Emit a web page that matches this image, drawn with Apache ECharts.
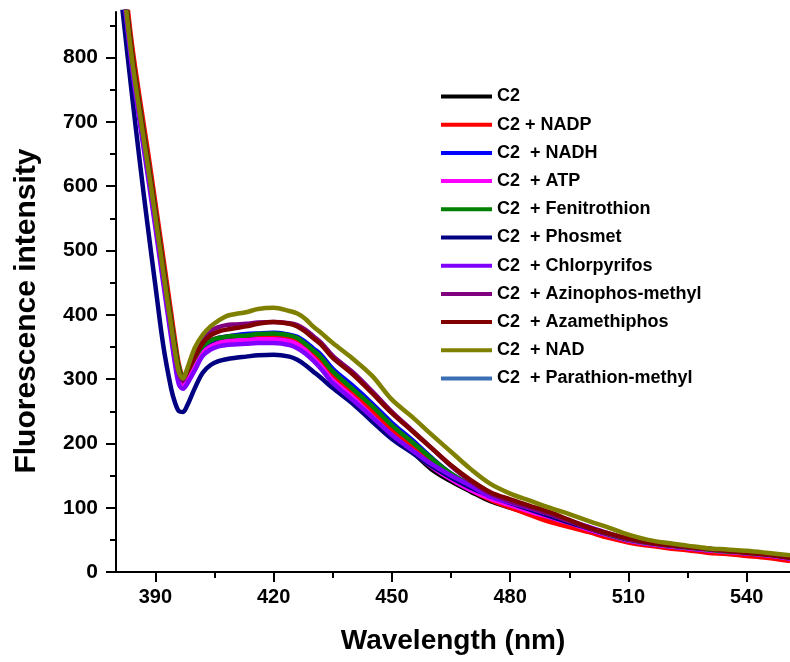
<!DOCTYPE html>
<html>
<head>
<meta charset="utf-8">
<script src="https://cdn.jsdelivr.net/npm/echarts@6/dist/echarts.min.js"></script>
<style>
html,body{margin:0;padding:0;background:#fff;}
#chart{width:790px;height:662px;}
</style>
</head>
<body>
<div id="chart"></div>
<script>
const wavelengths = [380,382,384,386,388,390,392,394,395,396,397,398,400,402,404,406,408,410,413,416,420,424,426,428,430,432,435,440,445,450,455,460,465,470,475,480,485,490,495,500,505,510,515,520,525,530,535,540,545,551];

const c2 =            [995,898,793,708,627,544,458,374,334,303,295,302,324,344,354,358,360,361,362,363,363,360,355,346,334,322,300,273,244,215,188,160,141,125,110,100,91,82,74,65,57,49,44,40,37,34,31,28,25,20];
const c2Nadp =        [1025,930,823,738,658,574,489,403,360,322,306,309,330,350,360,364,366,367,368,369,369,366,361,352,340,328,306,279,250,221,195,170,148,128,112,100,89,78,70,62,53,46,41,37,34,30,28,25,22,17];
const c2Nadh =        [1000,902,797,712,632,549,463,379,340,308,300,307,330,349,359,364,366,368,370,371,372,369,366,358,348,338,316,290,262,232,206,178,153,134,120,109,99,88,77,66,57,49,44,40,37,34,32,29,26,21];
const c2Atp =         [995,898,792,706,625,541,455,370,328,296,289,297,320,341,351,356,359,360,361,362,362,359,354,345,333,320,298,272,242,213,188,164,144,127,114,104,94,85,76,66,57,49,44,40,37,34,31,29,26,21];
const c2Fenitrothion =[1015,918,812,727,647,563,478,393,352,318,305,311,333,351,360,364,366,367,368,370,371,368,364,355,345,334,312,285,258,228,203,177,153,135,121,110,100,90,79,68,58,50,45,41,38,35,32,30,27,22];
const c2Phosmet =     [965,855,745,640,540,445,352,285,263,250,249,258,286,310,322,328,331,333,335,337,338,335,330,322,312,302,286,262,234,207,186,165,147,131,118,107,97,87,77,68,59,51,46,42,39,36,34,31,28,23];
const c2Chlorpyrifos =[990,893,787,700,619,535,449,364,322,291,285,292,314,336,346,351,353,354,355,356,356,353,348,340,329,316,294,268,241,213,190,168,150,134,117,108,99,90,80,70,60,51,46,42,39,36,33,31,28,23];
const c2Azinophos =   [1005,908,804,718,638,554,468,383,342,309,298,312,338,362,375,381,384,385,386,388,389,387,384,377,367,357,336,311,281,249,221,193,165,141,122,110,100,90,79,68,59,51,46,42,39,36,33,31,28,23];
const c2Azamethiphos =[1010,912,808,722,642,558,472,386,345,312,302,310,334,356,368,374,377,379,382,386,389,386,382,374,364,354,333,308,278,247,220,193,166,143,124,113,103,93,81,69,60,52,46,42,39,36,33,30,27,22];
const c2Nad =         [1000,905,800,715,635,552,466,382,342,310,301,315,349,369,382,391,398,401,404,409,411,406,402,394,382,372,356,332,305,268,242,214,187,160,137,122,111,100,90,79,69,58,50,45,41,37,35,33,30,26];
const c2Parathion =   [998,900,795,710,630,547,461,377,338,306,298,305,328,347,357,362,364,366,368,369,370,367,364,356,346,336,314,288,260,230,204,176,151,132,118,107,97,86,76,65,56,48,43,39,36,33,31,28,25,20];

const seriesNames = ['C2','C2 + NADP','C2  + NADH','C2  + ATP','C2  + Fenitrothion','C2  + Phosmet','C2  + Chlorpyrifos','C2  + Azinophos-methyl','C2  + Azamethiphos','C2  + NAD','C2  + Parathion-methyl'];
const seriesValues = [c2,c2Nadp,c2Nadh,c2Atp,c2Fenitrothion,c2Phosmet,c2Chlorpyrifos,c2Azinophos,c2Azamethiphos,c2Nad,c2Parathion];
const seriesColors = ['#000000','#ff0000','#0000ff','#ff00ff','#008000','#000080','#8000ff','#800080','#800000','#808000','#3a6eb5'];

const xMajorTicks = [390,420,450,480,510,540];
const xMinorTicks = [405,435,465,495,525];
const yMajorTicks = [0,100,200,300,400,500,600,700,800];
const yMinorTicks = [50,150,250,350,450,550,650,750,850];

const FONT = '"Liberation Sans", Arial, sans-serif';
const chart = echarts.init(document.getElementById('chart'), null, {renderer:'canvas'});

const drawOrder = [10,0,1,2,3,4,5,6,7,8,9];
const series = drawOrder.map(i => ({
  name: seriesNames[i],
  type: 'line',
  xAxisIndex: 0,
  yAxisIndex: 0,
  data: wavelengths.map((w, k) => [w, seriesValues[i][k]]),
  showSymbol: false,
  symbol: 'none',
  smooth: 0.35,
  clip: true,
  lineStyle: {width: 4.5, color: seriesColors[i]},
  itemStyle: {color: seriesColors[i]},
  emphasis: {disabled: true},
  animation: false
}));

const axisLineStyle = {color: '#000', width: 2};
chart.setOption({
  animation: false,
  backgroundColor: '#fff',
  grid: {left: 116, right: 0, top: 12, bottom: 90, containLabel: false},
  xAxis: [
    {type: 'value', min: 380, max: 551, position: 'bottom',
     axisLine: {show: true, lineStyle: axisLineStyle, onZero: false},
     axisTick: {show: true, inside: false, length: 10, lineStyle: {color:'#000', width: 2}, customValues: xMajorTicks},
     axisLabel: {show: true, margin: 15, color: '#000', fontFamily: FONT, fontWeight: 'bold', fontSize: 20, customValues: xMajorTicks},
     splitLine: {show: false}},
    {type: 'value', min: 380, max: 551, position: 'bottom',
     axisLine: {show: false},
     axisTick: {show: true, inside: false, length: 6, lineStyle: {color:'#000', width: 2}, customValues: xMinorTicks},
     axisLabel: {show: false},
     splitLine: {show: false}}
  ],
  yAxis: [
    {type: 'value', min: 0, max: 871, position: 'left',
     axisLine: {show: true, lineStyle: axisLineStyle, onZero: false},
     axisTick: {show: true, inside: false, length: 10, lineStyle: {color:'#000', width: 2}, customValues: yMajorTicks},
     axisLabel: {show: true, margin: 18, color: '#000', fontFamily: FONT, fontWeight: 'bold', fontSize: 21, customValues: yMajorTicks},
     splitLine: {show: false}},
    {type: 'value', min: 0, max: 871, position: 'left',
     axisLine: {show: false},
     axisTick: {show: true, inside: false, length: 6, lineStyle: {color:'#000', width: 2}, customValues: yMinorTicks},
     axisLabel: {show: false},
     splitLine: {show: false}}
  ],
  legend: {
    data: seriesNames,
    orient: 'vertical',
    left: 441, top: 86,
    icon: 'rect',
    itemWidth: 51, itemHeight: 4, itemGap: 7.2,
    padding: 0,
    selectedMode: false,
    textStyle: {color: '#000', fontFamily: FONT, fontWeight: 'bold', fontSize: 18, lineHeight: 21}
  },
  graphic: [
    {type: 'text', x: 453, y: 641,
     style: {text: 'Wavelength (nm)', fill: '#000', font: 'bold 28px ' + FONT, textAlign: 'center', textVerticalAlign: 'middle'}},
    {type: 'text', x: 27, y: 311, rotation: Math.PI/2,
     style: {text: 'Fluorescence intensity', fill: '#000', font: 'bold 30px ' + FONT, textAlign: 'center', textVerticalAlign: 'middle'}}
  ],
  series: series
});
</script>
</body>
</html>
